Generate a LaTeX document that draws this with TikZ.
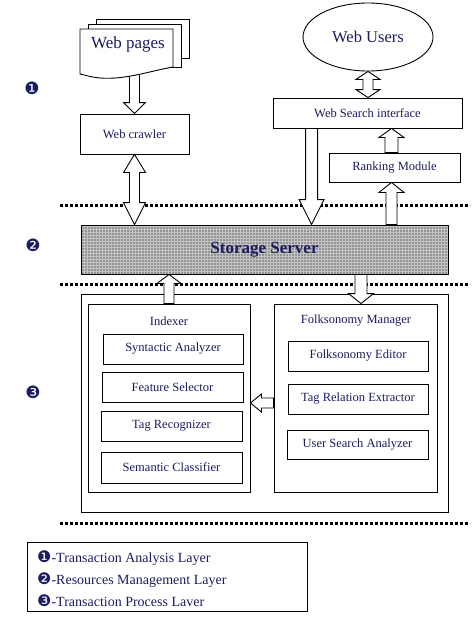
\documentclass[tikz,border=0pt]{standalone}
\usepackage{fontspec}
\setmainfont{Liberation Serif}
\newfontfamily\dingfont{DejaVu Sans}
\newfontfamily\bserif{Liberation Serif}[UprightFont={* Bold}]
\usetikzlibrary{calc,shapes.geometric}
\definecolor{navy}{RGB}{28,28,96}
\definecolor{ssgray}{RGB}{148,148,148}
\definecolor{ssgrid}{RGB}{196,196,196}
\tikzset{
  box/.style={draw=black, line width=0.9pt, fill=white, inner sep=0pt, text=navy,
    font=\fontsize{12.5}{14}\selectfont},
  ttl/.style={inner sep=0pt, text=navy, font=\fontsize{12.5}{14}\selectfont},
  blockarr/.style={draw=black, line width=0.9pt, fill=white, line join=miter},
  dotline/.style={line width=3pt, dash pattern=on 3pt off 2pt},
  num/.style={text=navy, font=\dingfont\fontsize{17}{17}\selectfont, inner sep=0pt},
  legtxt/.style={text=navy, inner sep=0pt, anchor=west, font=\fontsize{14}{16}\selectfont},
}
\newcommand\legnum[1]{{\dingfont\fontsize{16}{16}\selectfont #1}}
% #1 tail, #2 tip, #3 shaft half width, #4 head half width, #5 head length
\newcommand\downblk[5]{%
  \path[blockarr] let \p1=#1, \p2=#2 in
    ({\x2-#3pt},\y1) -- ({\x2-#3pt},{\y2+#5pt}) -- ({\x2-#4pt},{\y2+#5pt}) -- (\x2,\y2)
    -- ({\x2+#4pt},{\y2+#5pt}) -- ({\x2+#3pt},{\y2+#5pt}) -- ({\x2+#3pt},\y1) -- cycle;}
\newcommand\upblk[5]{%
  \path[blockarr] let \p1=#1, \p2=#2 in
    ({\x2-#3pt},\y1) -- ({\x2-#3pt},{\y2-#5pt}) -- ({\x2-#4pt},{\y2-#5pt}) -- (\x2,\y2)
    -- ({\x2+#4pt},{\y2-#5pt}) -- ({\x2+#3pt},{\y2-#5pt}) -- ({\x2+#3pt},\y1) -- cycle;}
% #1 top end, #2 bottom end, #3 shaft, #4 head, #5 top head length, #6 bottom head length
\newcommand\dblblk[6]{%
  \path[blockarr] let \p1=#1, \p2=#2 in
    (\x1,\y1) -- ({\x1+#4pt},{\y1-#5pt}) -- ({\x1+#3pt},{\y1-#5pt}) -- ({\x1+#3pt},{\y2+#6pt})
    -- ({\x1+#4pt},{\y2+#6pt}) -- (\x1,\y2) -- ({\x1-#4pt},{\y2+#6pt}) -- ({\x1-#3pt},{\y2+#6pt})
    -- ({\x1-#3pt},{\y1-#5pt}) -- ({\x1-#4pt},{\y1-#5pt}) -- cycle;}
% leftward: #1 tail (right), #2 tip (left)
\newcommand\leftblk[5]{%
  \path[blockarr] let \p1=#1, \p2=#2 in
    (\x1,{\y2+#3pt}) -- ({\x2+#5pt},{\y2+#3pt}) -- ({\x2+#5pt},{\y2+#4pt}) -- (\x2,\y2)
    -- ({\x2+#5pt},{\y2-#4pt}) -- ({\x2+#5pt},{\y2-#3pt}) -- (\x1,{\y2-#3pt}) -- cycle;}
\begin{document}
\begin{tikzpicture}[x=1pt,y=-1pt]
\useasboundingbox (0,0) rectangle (474,625);
\fill[white] (0,0) rectangle (474,625);

% layer markers
\node[num] (n1) at (32,88) {❶};
\node[num] (n2) at (33,245) {❷};
\node[num] (n3) at (33,392) {❸};

% dotted separators
\draw[dotline] (60,205) -- (470,205);
\draw[dotline] (60,284) -- (470,284);
\draw[dotline] (60,523) -- (470,523);

% top layer
\node[box, minimum width=109, minimum height=40] (crawl) at (134.5,134) {Web crawler};
\node[draw=black, line width=0.9pt, fill=white, ellipse, minimum width=130, minimum height=68,
  inner sep=0pt, text=navy, font=\fontsize{16.5}{18}\selectfont] (wu) at (368,37) {Web Users};
\node[box, minimum width=189, minimum height=30] (wsi) at (367.5,113) {Web Search interface};
\node[box, minimum width=131, minimum height=29] (rank) at (394.5,167.5) {Ranking Module};

% storage server
\node[draw=black, line width=0.9pt, fill=ssgray, minimum width=367, minimum height=49, inner sep=0pt,
  text=navy, font=\bserif\fontsize{17}{19}\selectfont,
  path picture={
    \foreach \i in {0,3,...,369} {
      \draw[ssgrid, line width=0.6pt] ([xshift=\i pt]path picture bounding box.south west)
        -- ([xshift=\i pt]path picture bounding box.north west);}
    \foreach \j in {0,3,...,51} {
      \draw[ssgrid, line width=0.6pt] ([yshift=\j pt]path picture bounding box.south west)
        -- ([yshift=\j pt]path picture bounding box.south east);}
  }] (ss) at (264.5,249.5) {Storage Server};

% process layer
\node[draw=black, line width=0.9pt, minimum width=367, minimum height=218, inner sep=0pt] (outer) at (264.5,403) {};
\node[box, minimum width=162, minimum height=188] (idx) at (169,398) {};
\node[ttl] (idxt) at (169,321) {Indexer};
\node[box, minimum width=140, minimum height=30] (syn) at (173,349) {Syntactic Analyzer};
\node[box, minimum width=141, minimum height=30] (feat) at (172.5,387) {Feature Selector};
\node[box, minimum width=141, minimum height=30] (tag) at (171.5,426) {Tag Recognizer};
\node[box, minimum width=141, minimum height=31] (sem) at (171.5,467.5) {Semantic Classifier};

\node[box, minimum width=163, minimum height=188] (fm) at (355.5,398) {};
\node[ttl] (fmt) at (356,321) {Folksonomy Manager};
\node[box, minimum width=140, minimum height=30] (fe) at (358,356) {Folksonomy Editor};
\node[box, minimum width=140, minimum height=30] (tre) at (358,399) {Tag Relation Extractor};
\node[box, minimum width=141, minimum height=29] (usa) at (357.5,444.5) {User Search Analyzer};

% legend
\node[draw=black, line width=0.9pt, minimum width=280, minimum height=69, inner sep=0pt] (lg) at (167,576.5) {};
\node[legtxt] (l1) at (37,558) {\legnum{❶}-Transaction Analysis Layer};
\node[legtxt] (l2) at (37,580) {\legnum{❷}-Resources Management Layer};
\node[legtxt] (l3) at (37,601) {\legnum{❸}-Transaction Process Laver};

% connectors
\coordinate (wpb) at (133,70);
\downblk{(wpb)}{(crawl.north)}{5}{11}{11}
\dblblk{(crawl.south)}{(crawl.south |- ss.north)}{5}{11}{18}{22}
\dblblk{(wu.south)}{(wu.south |- wsi.north)}{5}{12}{8}{8}
\coordinate (ra) at ($(rank.north)+(-3,0)$);
\upblk{(ra)}{(ra |- wsi.south)}{6.5}{12.5}{9}
\upblk{(ra |- ss.north)}{(ra |- rank.south)}{5.5}{12.5}{10}
\coordinate (wa) at ($(wsi.south west)+(39,0)$);
\downblk{(wa)}{(wa |- ss.north)}{6}{12.5}{25}
\upblk{(idx.north)}{(idx.north |- ss.south)}{5}{12}{9}
\coordinate (fa) at ($(fm.north)+(5.5,0)$);
\downblk{(fa |- ss.south)}{(fa)}{6}{12.5}{10}
\coordinate (ha) at ($(fm.west)+(0,5)$);
\leftblk{(ha)}{(ha -| idx.east)}{5}{9}{11}

% web pages document stack
\draw[line width=0.9pt, fill=white] (96,19) rectangle (189,58);
\draw[line width=0.9pt, fill=white] (88,24) rectangle (181,67);
\draw[line width=0.9pt, fill=white] (80,74) -- (80,29) -- (173,29) -- (173,67)
  .. controls (150,71) and (125,80) .. (100,78) .. controls (90,77) and (85,75) .. (80,74) -- cycle;
\node[inner sep=0pt, text=navy, font=\fontsize{17}{19}\selectfont] (wp) at (128,44) {Web pages};
\end{tikzpicture}
\end{document}
